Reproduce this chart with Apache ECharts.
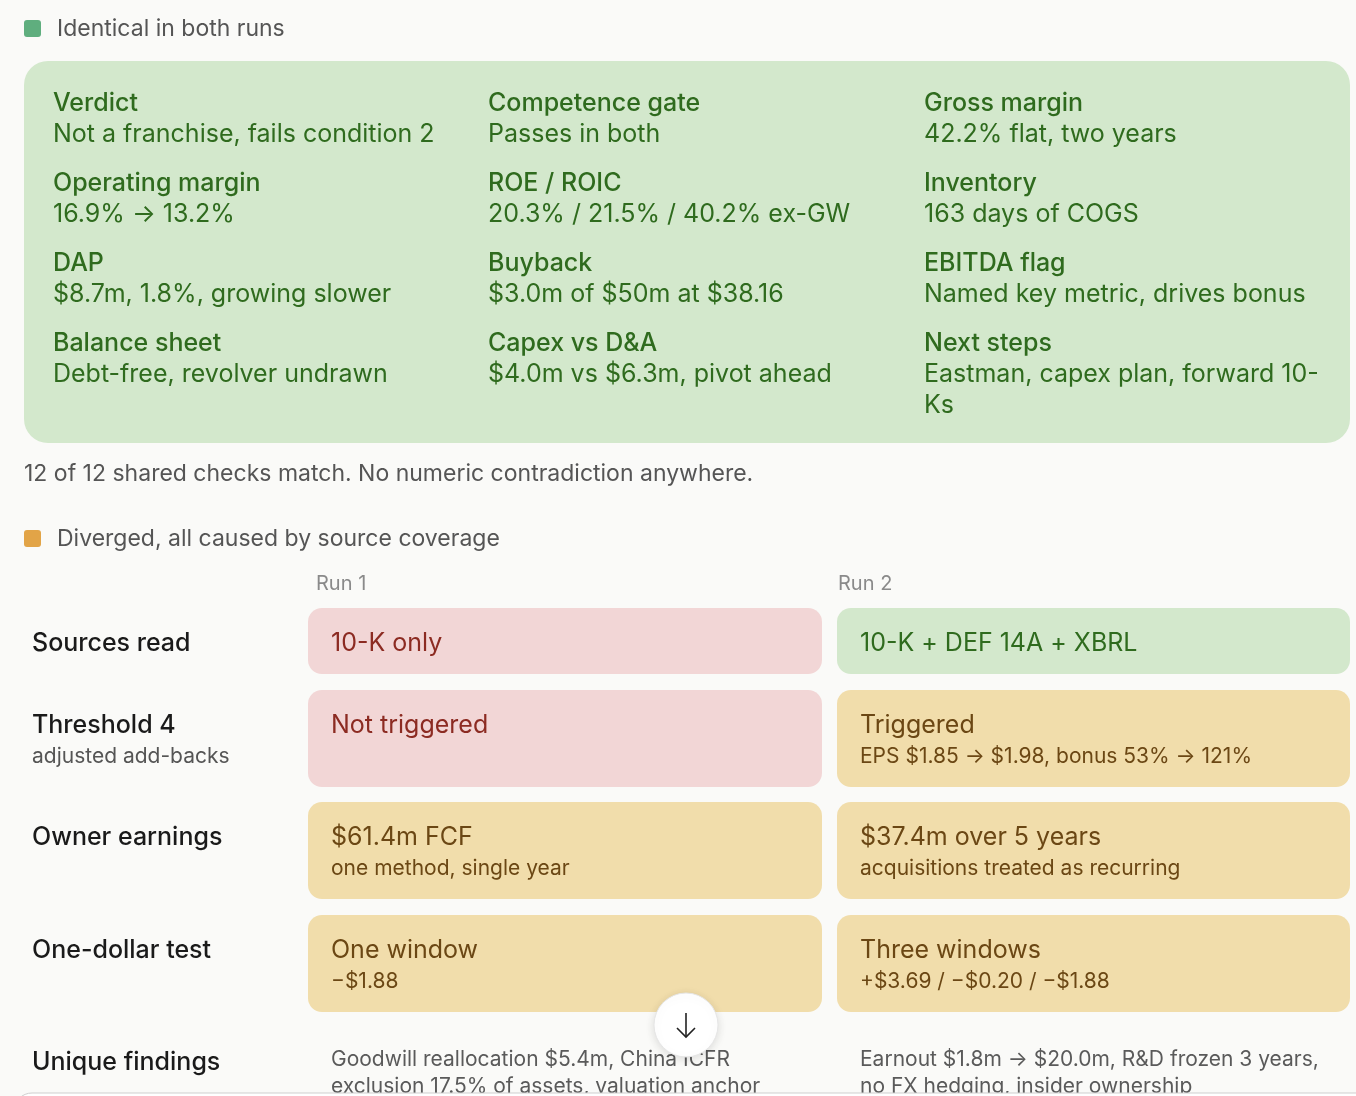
<!DOCTYPE html>
<html>
<head>
<meta charset="utf-8">
<script src="https://cdn.jsdelivr.net/npm/echarts@6/dist/echarts.min.js"></script>
<style>
html,body{margin:0;padding:0;background:#fafaf8;}
#c{width:1356px;height:1096px;}
</style>
</head>
<body>
<div id="c"></div>
<script>
// ---- data ----
var sharedTitle = 'Identical in both runs';
var sharedTitles = ['Verdict','Competence gate','Gross margin','Operating margin','ROE / ROIC','Inventory','DAP','Buyback','EBITDA flag','Balance sheet','Capex vs D&A','Next steps'];
var sharedValues = ['Not a franchise, fails condition 2','Passes in both','42.2% flat, two years','16.9% \u2192 13.2%','20.3% / 21.5% / 40.2% ex-GW','163 days of COGS','$8.7m, 1.8%, growing slower','$3.0m of $50m at $38.16','Named key metric, drives bonus','Debt-free, revolver undrawn','$4.0m vs $6.3m, pivot ahead','Eastman, capex plan, forward 10-\nKs'];
var sharedNote = '12 of 12 shared checks match. No numeric contradiction anywhere.';
var divTitle = 'Diverged, all caused by source coverage';
var runNames = ['Run 1','Run 2'];
var rowLabels = ['Sources read','Threshold 4','Owner earnings','One-dollar test','Unique findings'];
var rowSubLabels = ['','adjusted add-backs','','',''];
var run1Main = ['10-K only','Not triggered','$61.4m FCF','One window','Goodwill reallocation $5.4m, China ICFR\nexclusion 17.5% of assets, valuation anchor'];
var run1Sub = ['','','one method, single year','\u2212$1.88',''];
var run1Tone = ['bad','bad','mid','mid','plain'];
var run2Main = ['10-K + DEF 14A + XBRL','Triggered','$37.4m over 5 years','Three windows','Earnout $1.8m \u2192 $20.0m, R&D frozen 3 years,\nno FX hedging, insider ownership'];
var run2Sub = ['','EPS $1.85 \u2192 $1.98, bonus 53% \u2192 121%','acquisitions treated as recurring','+$3.69 / \u2212$0.20 / \u2212$1.88',''];
var run2Tone = ['good','mid','mid','mid','plain'];

function buildGraphics() {
  var FONT = 'Inter, "Noto Sans", sans-serif';
  var tones = {
    bad:  {fill:'#f2d6d6', text:'#8c2b22'},
    good: {fill:'#d3e8cc', text:'#2f6b1e'},
    mid:  {fill:'#f1ddab', text:'#6b4714'},
    plain:{fill:null, text:'#5a5a5a'}
  };
  var g = [];
  function txt(x, y, s, size, color, extra){
    var st = {text:s, x:x, y:y, fontSize:size, fontFamily:FONT, fill:color, verticalAlign:'middle', align:'left'};
    if (extra) for (var k in extra) st[k] = extra[k];
    g.push({type:'text', z:10, style:st, silent:true});
  }
  function rect(x, y, w, h, r, fill, z){
    g.push({type:'rect', z:z||1, shape:{x:x,y:y,width:w,height:h,r:r}, style:{fill:fill}, silent:true});
  }

  rect(24, 20, 17, 17, 3, '#5fae7e', 2);
  txt(57, 29, sharedTitle, 23, '#555555');
  rect(24, 61, 1326, 382, 24, '#d3e8cc', 1);
  var colX = [53, 488, 924];
  for (var i = 0; i < sharedTitles.length; i++) {
    var col = i % 3, row = Math.floor(i / 3);
    var ty = 103 + 80 * row;
    txt(colX[col], ty, sharedTitles[i], 25, '#2f6b1e', {fontWeight:500});
    txt(colX[col], ty + 16, sharedValues[i], 25, '#2f6b1e', {verticalAlign:'top', lineHeight:31});
  }
  txt(24, 474, sharedNote, 23, '#555555');

  rect(24, 530, 17, 17, 3, '#e2a447', 2);
  txt(57, 539, divTitle, 23, '#555555');
  var boxX = [308, 837], boxW = [514, 513];
  txt(316, 584, runNames[0], 20, '#8a8a8a');
  txt(838, 584, runNames[1], 20, '#8a8a8a');

  var rowTop = [608, 690, 802, 915, 1027];
  for (var r = 0; r < rowLabels.length; r++) {
    var rt = rowTop[r];
    var twoLine = !!(rowSubLabels[r] || run1Sub[r] || run2Sub[r]);
    var h = twoLine ? 97 : 66;
    var mainY = rt + 35;
    txt(32, mainY, rowLabels[r], 25, '#1a1a1a', {fontWeight:500});
    if (rowSubLabels[r]) txt(32, rt + 67, rowSubLabels[r], 21, '#555555');
    var mains = [run1Main[r], run2Main[r]], subs = [run1Sub[r], run2Sub[r]], tns = [run1Tone[r], run2Tone[r]];
    for (var c = 0; c < 2; c++) {
      var t = tones[tns[c]];
      if (t.fill) {
        rect(boxX[c], rt, boxW[c], h, 14, t.fill, 1);
        txt(boxX[c] + 23, mainY, mains[c], 25, t.text);
        if (subs[c]) txt(boxX[c] + 23, rt + 67, subs[c], 21, t.text);
      } else {
        txt(boxX[c] + 23, mainY - 16, mains[c], 21, t.text, {verticalAlign:'top', lineHeight:27});
      }
    }
  }

  g.push({type:'rect', z:20, shape:{x:14,y:1093,width:1400,height:60,r:18}, style:{fill:'#ffffff', stroke:'#cfcfcf', lineWidth:1}, silent:true});
  g.push({type:'circle', z:30, shape:{cx:686, cy:1025, r:32}, style:{fill:'#ffffff', stroke:'#e6e6e6', lineWidth:1, shadowBlur:10, shadowColor:'rgba(0,0,0,0.12)', shadowOffsetY:2}, silent:true});
  g.push({type:'polyline', z:31, shape:{points:[[686,1013],[686,1037]]}, style:{stroke:'#222', lineWidth:1.6, fill:null}, silent:true});
  g.push({type:'polyline', z:31, shape:{points:[[677,1028],[686,1037],[695,1028]]}, style:{stroke:'#222', lineWidth:1.6, fill:null}, silent:true});
  return g;
}

var chart = echarts.init(document.getElementById('c'), null, {renderer:'canvas'});
chart.setOption({
  backgroundColor:'#fafaf8',
  animation:false,
  graphic: buildGraphics()
});
</script>
</body>
</html>
